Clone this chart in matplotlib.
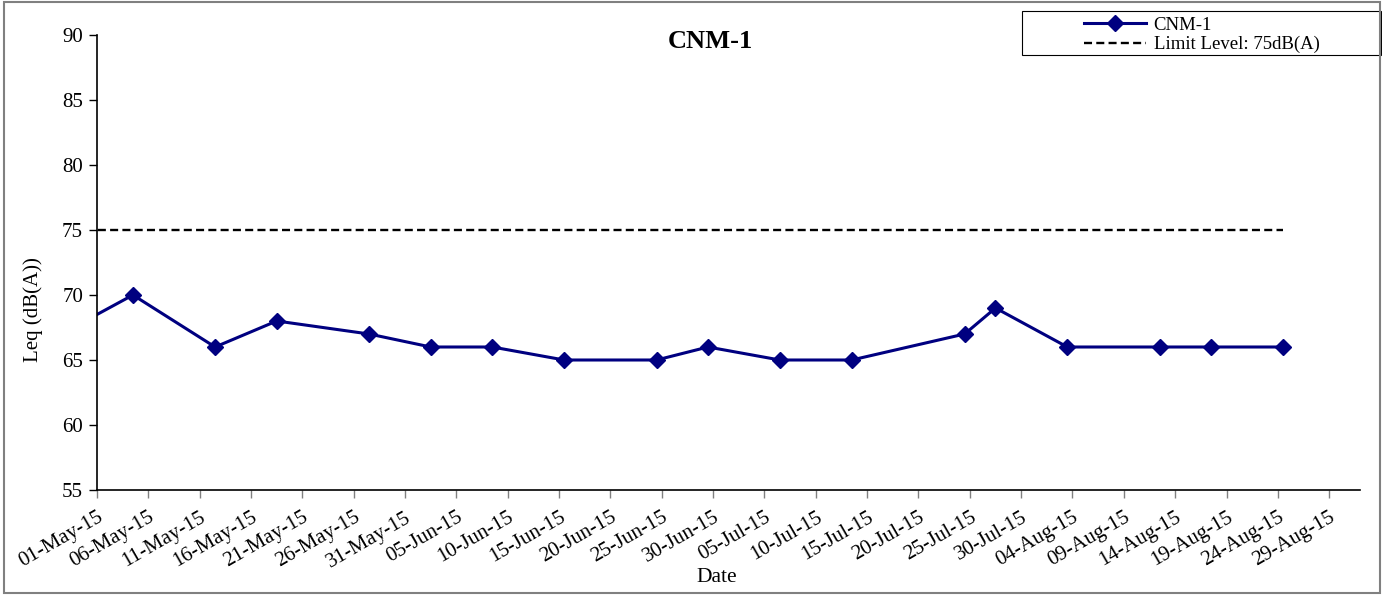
import matplotlib
matplotlib.use('Agg')
import matplotlib.pyplot as plt
import matplotlib.dates as mdates
import pandas as pd
from matplotlib.patches import Rectangle

# monitoring dates and measured Leq
dates = ['2015-04-27', '2015-05-04', '2015-05-12', '2015-05-18', '2015-05-27',
         '2015-06-02', '2015-06-08', '2015-06-15', '2015-06-24', '2015-06-29',
         '2015-07-06', '2015-07-13', '2015-07-24', '2015-07-27', '2015-08-03',
         '2015-08-12', '2015-08-17', '2015-08-24']
leq = [67, 70, 66, 68, 67, 66, 66, 65, 65, 66, 65, 65, 67, 69, 66, 66, 66, 66]
limit = [75] * len(dates)

plt.rcParams['font.family'] = ['Liberation Serif', 'DejaVu Serif']

# excel date axis: each day is a bin, points sit in the middle of it
x = pd.to_datetime(dates) + pd.Timedelta(hours=12)

fig = plt.figure(figsize=(13.82, 5.95), dpi=100)
ax = fig.add_axes([97/1382, 1-490/595, (1360-97)/1382, (490-35)/595])

l1, = ax.plot(x, leq, color='#000080', lw=2.2, marker='D', ms=8.5)
l2, = ax.plot(x, limit, color='black', lw=1.7, ls=(0, (3.4, 1.8)))

ax.set_xlim(pd.Timestamp('2015-05-01'), pd.Timestamp('2015-09-01'))
ax.set_ylim(55, 90)
ax.set_yticks(range(55, 91, 5))
ticks = pd.date_range('2015-05-01', '2015-08-29', freq='5D')
ax.set_xticks(ticks)
ax.xaxis.set_major_formatter(mdates.DateFormatter('%d-%b-%y'))
for lab in ax.get_xticklabels():
    lab.set_rotation(30)
    lab.set_ha('right')
    lab.set_va('top')
    lab.set_rotation_mode('anchor')

ax.tick_params(axis='both', labelsize=15, direction='out', length=6, width=1, colors='black')
ax.tick_params(axis='x', length=6, color='#808080', labelcolor='black', pad=7)
ax.tick_params(axis='y', pad=4)
for s in ['top', 'right']:
    ax.spines[s].set_visible(False)
ax.spines['left'].set_linewidth(1.2)
ax.spines['bottom'].set_linewidth(1.2)

fig.text(33/1382, 1-310/595, 'Leq (dB(A))', ha='center', va='center', rotation=90, fontsize=15)
fig.text(717/1382, 1-578/595, 'Date', ha='center', va='center', fontsize=15.5)
fig.text(710/1382, 1-42/595, 'CNM-1', ha='center', va='center', fontsize=19, fontweight='bold')

# legend box
fig.patches.append(Rectangle((1022/1382, 1-55/595), 359/1382, 44/595, transform=fig.transFigure,
                             fill=False, ec='black', lw=0.8))
fig.legend([l1, l2], ['CNM-1', 'Limit Level: 75dB(A)'], loc='center',
           bbox_to_anchor=(1202/1382, 1-35/595), frameon=False, fontsize=13.5,
           handlelength=3.3, handletextpad=0.4, labelspacing=0.1, borderpad=0)

# outer chart border
fig.patches.append(Rectangle((4/1382, 2/595), 1376/1382, 591/595, transform=fig.transFigure,
                             fill=False, ec='#808080', lw=1.5))

fig.savefig('out.png', dpi=100)
